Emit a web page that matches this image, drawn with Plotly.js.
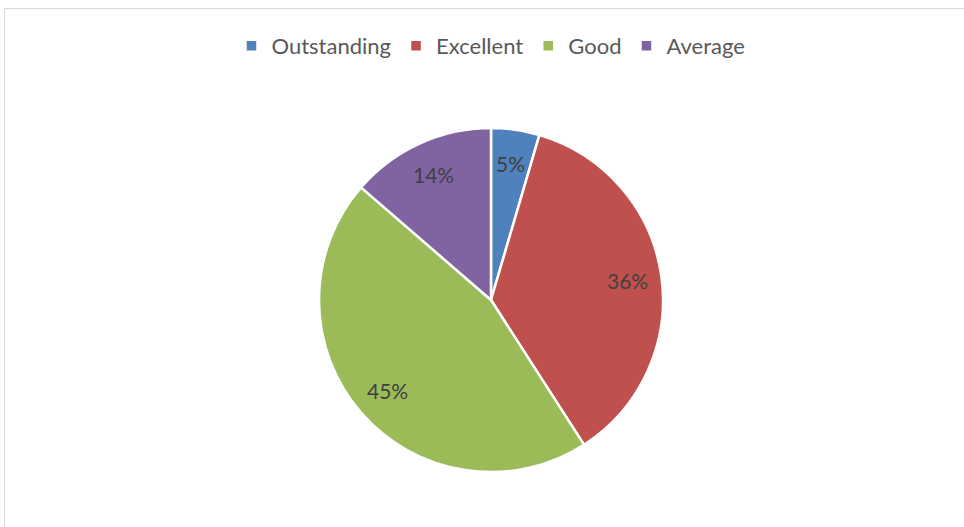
<!DOCTYPE html>
<html>
<head>
<meta charset="utf-8">
<script src="https://cdn.plot.ly/plotly-3.0.1.min.js"></script>
<style>html,body{margin:0;padding:0;background:#fff;}#chart{width:964px;height:527px;}</style>
</head>
<body>
<div id="chart"></div>
<script>
const categories = ["Outstanding", "Excellent", "Good", "Average"];
const counts = [10, 80, 100, 30];
const colors = ["#4F81BD", "#C0504D", "#9BBB59", "#8064A2"];

const W = 964, H = 527;
const cx = 491, cy = 300, R = 172;
const FONT = "Lato, 'Open Sans', sans-serif";

const trace = {
  type: "pie",
  labels: categories,
  values: counts,
  sort: false,
  direction: "clockwise",
  rotation: 0,
  marker: {colors: colors, line: {color: "#ffffff", width: 2.5}},
  textinfo: "none",
  hoverinfo: "label+percent",
  domain: {x: [(cx - R) / W, (cx + R) / W], y: [1 - (cy + R) / H, 1 - (cy - R) / H]}
};

// data labels placed along each slice's mid-angle (Excel "best fit" style), derived from the values
const total = counts.reduce((a, b) => a + b, 0);
let cum = 0;
const annotations = counts.map((v, i) => {
  const mid = (cum + v / 2) / total * 2 * Math.PI;
  cum += v;
  const r = 0.8 * R;
  return {
    xref: "paper", yref: "paper",
    x: (cx + r * Math.sin(mid)) / W,
    y: 1 - (cy - r * Math.cos(mid)) / H,
    text: Math.round(v / total * 100) + "%",
    showarrow: false, xanchor: "center", yanchor: "middle",
    font: {family: FONT, size: 21, color: "#404040"}
  };
});

const layout = {
  width: W, height: H,
  margin: {l: 0, r: 0, t: 0, b: 0},
  paper_bgcolor: "#ffffff",
  showlegend: true,
  legend: {
    orientation: "h", x: 491 / W, xanchor: "center", y: 1 - 46 / H, yanchor: "middle",
    font: {family: FONT, size: 22, color: "#595959"},
    itemwidth: 30, itemgap: 5, traceorder: "normal"
  },
  annotations: annotations,
  shapes: [{
    type: "rect", xref: "paper", yref: "paper",
    x0: 4.5 / W, x1: 1.2, y0: -0.2, y1: 1 - 8.5 / H,
    line: {color: "#d9d9d9", width: 1}, fillcolor: "rgba(0,0,0,0)", layer: "below"
  }]
};

Plotly.newPlot("chart", [trace], layout, {displayModeBar: false, staticPlot: true});
</script>
</body>
</html>
